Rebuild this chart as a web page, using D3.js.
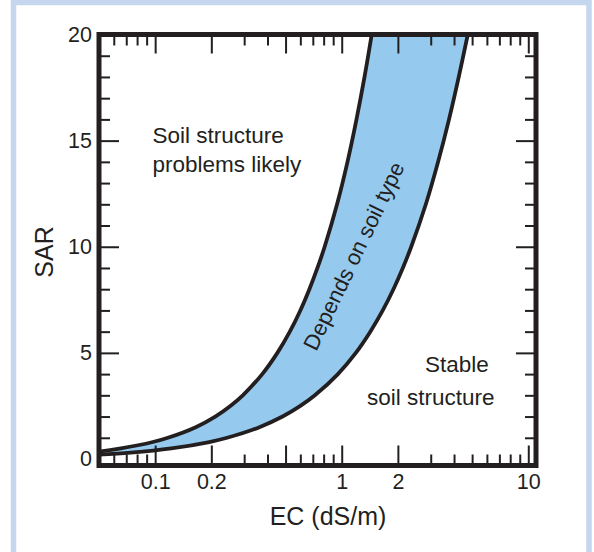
<!DOCTYPE html>
<html>
<head>
<meta charset="utf-8">
<script src="https://cdn.jsdelivr.net/npm/d3@7"></script>
<style>
  body { margin: 0; background: #fff; }
  svg { display: block; font-family: "Liberation Sans", Arial, Helvetica, sans-serif; }
</style>
</head>
<body>
<div id="chart"></div>
<script>
// SAR levels and the EC (dS/m) of each boundary curve at that level
var sarLevels = [0.2, 0.3, 0.5, 0.8, 1, 1.5, 2, 2.5, 3, 4, 5, 6, 7, 8, 9, 10, 12, 14, 16, 18, 20];
var ecUpper   = [0.031, 0.0447, 0.0655, 0.0972, 0.117, 0.165, 0.21, 0.253, 0.295, 0.375, 0.452, 0.527, 0.60, 0.671, 0.741, 0.81, 0.944, 1.074, 1.20, 1.325, 1.448];
var ecLower   = [0.0495, 0.074, 0.122, 0.195, 0.243, 0.362, 0.482, 0.60, 0.718, 0.954, 1.19, 1.423, 1.659, 1.893, 2.126, 2.358, 2.824, 3.286, 3.76, 4.24, 4.74];

// axis ticks
var xTickLabels  = [0.1, 0.2, 1, 2, 10];
var xMajorTicks  = [0.1, 0.2, 0.5, 1, 2, 10];
var xMinorTicks  = [0.06, 0.07, 0.08, 0.09, 0.3, 0.4, 0.6, 0.7, 0.8, 0.9, 3, 4, 5, 6, 7, 8, 9];
var yTickLabels  = [0, 5, 10, 15, 20];
var yMajorTicks  = [5, 10, 15];
var yMinorTicks  = [1, 2, 3, 4, 6, 7, 8, 9, 11, 12, 13, 14, 16, 17, 18, 19];

var W = 594, H = 552;
var pL = 99, pR = 536, pT = 34.5, pB = 465.5;
var ink = "#231f20";

var x = d3.scaleLog().domain([0.05, 11]).range([pL, pR]);
var y = d3.scaleLinear().domain([0, 20]).range([459, pT]);
var smooth = d3.curveCatmullRom.alpha(0.5);

var svg = d3.select("#chart").append("svg")
	.attr("width", W)
	.attr("height", H);

// light blue panel border
svg.append("rect")
	.attr("x", 13.5).attr("y", 2.5)
	.attr("width", 575.5).attr("height", 620)
	.style("fill", "none")
	.style("stroke", "#c5d6ef")
	.style("stroke-width", 5.5);

svg.append("clipPath").attr("id", "plotclip")
	.append("rect")
	.attr("x", pL).attr("y", pT)
	.attr("width", pR - pL).attr("height", pB - pT);

var rows = sarLevels.map(function(s, i){ return {sar: s, up: ecUpper[i], lo: ecLower[i]}; });

var plot = svg.append("g").attr("clip-path", "url(#plotclip)");

plot.append("path")
	.datum(rows)
	.attr("d", d3.area()
		.curve(smooth)
		.y(function(d){ return y(d.sar); })
		.x0(function(d){ return x(d.up); })
		.x1(function(d){ return x(d.lo); }))
	.style("fill", "#95caee")
	.style("stroke", "none");

["up", "lo"].forEach(function(k){
	plot.append("path")
		.datum(rows)
		.attr("d", d3.line()
			.curve(smooth)
			.y(function(d){ return y(d.sar); })
			.x(function(d){ return x(d[k]); }))
		.style("fill", "none")
		.style("stroke", ink)
		.style("stroke-width", 3.8);
});

// inward ticks on all four sides
function ticks(axis, tx, ty, vals, len){
	var g = svg.append("g")
		.attr("transform", "translate(" + tx + "," + ty + ")")
		.call(axis.tickValues(vals).tickSize(len).tickFormat(""));
	g.select(".domain").remove();
	g.selectAll("line").style("stroke", ink).style("stroke-width", 2);
}
ticks(d3.axisTop(x), 0, pB, xMinorTicks, 11);
ticks(d3.axisTop(x), 0, pB, xMajorTicks, 20);
ticks(d3.axisBottom(x), 0, pT, xMinorTicks, 11);
ticks(d3.axisBottom(x), 0, pT, xMajorTicks, 19);
ticks(d3.axisRight(y), pL, 0, yMinorTicks, 11);
ticks(d3.axisRight(y), pL, 0, yMajorTicks, 20);
ticks(d3.axisLeft(y), pR, 0, yMinorTicks, 11);
ticks(d3.axisLeft(y), pR, 0, yMajorTicks, 20);

// frame
svg.append("rect")
	.attr("x", pL).attr("y", pT)
	.attr("width", pR - pL).attr("height", pB - pT)
	.style("fill", "none")
	.style("stroke", ink)
	.style("stroke-width", 5);

// tick labels
var xl = svg.append("g")
	.attr("transform", "translate(0," + pB + ")")
	.call(d3.axisBottom(x).tickValues(xTickLabels).tickSize(0).tickPadding(8)
		.tickFormat(function(d){ return String(d); }));
xl.attr("font-size", null).attr("font-family", null);
xl.select(".domain").remove();
xl.selectAll("text").style("font-size", "21.5px").style("fill", ink);

var yl = svg.append("g")
	.attr("transform", "translate(" + pL + ",0)")
	.call(d3.axisLeft(y).tickValues(yTickLabels).tickSize(0).tickPadding(7)
		.tickFormat(function(d){ return String(d); }));
yl.attr("font-size", null).attr("font-family", null);
yl.select(".domain").remove();
yl.selectAll("text").style("font-size", "21.5px").style("fill", ink);

// axis titles
svg.append("text")
	.attr("transform", "translate(53,252) rotate(-90)")
	.attr("text-anchor", "middle")
	.style("font-size", "25px").style("fill", ink)
	.text("SAR");

svg.append("text")
	.attr("x", 328).attr("y", 525)
	.attr("text-anchor", "middle")
	.style("font-size", "25px").style("fill", ink)
	.text("EC (dS/m)");

// annotations
function label(tx, ty, str){
	svg.append("text")
		.attr("x", tx).attr("y", ty)
		.style("font-size", "22.5px").style("fill", ink)
		.text(str);
}
label(152.5, 143.3, "Soil structure");
label(152.5, 171.7, "problems likely");
label(425, 371.7, "Stable");
label(367, 405, "soil structure");

svg.append("text")
	.attr("transform", "translate(354,256) rotate(-64.4)")
	.attr("text-anchor", "middle")
	.attr("dominant-baseline", "central")
	.style("font-size", "22px").style("fill", ink)
	.text("Depends on soil type");
</script>
</body>
</html>
